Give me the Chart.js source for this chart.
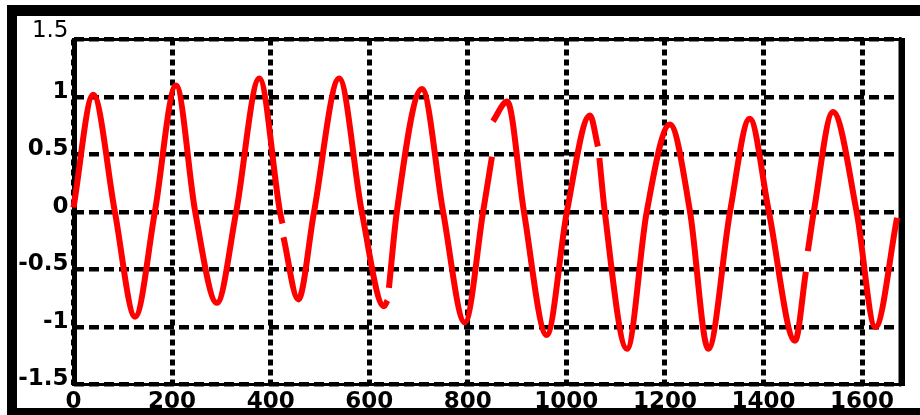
<!DOCTYPE html>
<html>
<head>
<meta charset="utf-8">
<script src="https://cdn.jsdelivr.net/npm/chart.js@4.4.0/dist/chart.umd.min.js"></script>
<style>
html,body{margin:0;padding:0;background:#fff;}
canvas{display:block;}
</style>
</head>
<body>
<canvas id="c" width="920" height="415"></canvas>
<script>
// ---- data ----
const sampleX = [0, 40, 84, 125, 165, 208, 247, 291, 330, 377, 419, 424, 425, 426, 456, 488, 539, 585, 630, 637, 638, 640, 656, 707, 750, 794, 831, 849, 850, 851, 880, 914, 960, 1001, 1048, 1064, 1065, 1067, 1078, 1123, 1163, 1210, 1251, 1288, 1332, 1372, 1411, 1464, 1486, 1488, 1490, 1502, 1541, 1589, 1627, 1671];
const signalY = [0.04, 1.02, 0, -0.91, 0, 1.1, 0, -0.79, 0, 1.16, 0, -0.1, null, -0.22, -0.76, 0, 1.16, 0, -0.82, -0.77, null, -0.66, 0, 1.07, 0, -0.96, 0, 0.48, null, 0.79, 0.96, 0, -1.07, 0, 0.84, 0.57, null, 0.47, 0, -1.19, 0, 0.76, 0, -1.19, 0, 0.81, 0, -1.12, -0.52, null, -0.34, 0, 0.87, 0, -1.0, -0.05];
const xTickValues = [0, 200, 400, 600, 800, 1000, 1200, 1400, 1600];
const xTickLabels = ['0', '200', '400', '600', '800', '1000', '1200', '1400', '1600'];
const yTickValues = [-1.5, -1, -0.5, 0, 0.5, 1, 1.5];
const yTickLabels = ['-1.5', '-1', '-0.5', '0', '0.5', '1', '1.5'];
const xMin = 0, xMax = 1680, yMin = -1.5, yMax = 1.5;

const points = sampleX.map((x, i) => ({x: x, y: signalY[i]}));

const framePlugin = {
  id: 'frame',
  beforeDraw(chart) {
    const c = chart.ctx;
    c.save();
    c.fillStyle = '#ffffff';
    c.fillRect(0, 0, chart.width, chart.height);
    c.restore();
  },
  beforeDatasetsDraw(chart) {
    const c = chart.ctx, a = chart.chartArea;
    c.save();
    c.fillStyle = '#000';
    const L = a.left - 1.5, R = a.right + 3.5;
    c.fillRect(L, a.top - 1.5, R - L, 3);          // top
    c.fillRect(L, a.bottom - 1.5, R - L, 3);       // bottom
    c.fillRect(L, a.top - 1.5, 5, a.bottom - a.top + 3);   // left
    c.fillRect(a.right - 3, a.top - 1.5, 6.5, a.bottom - a.top + 3); // right
    c.restore();
  },
  afterDraw(chart) {
    const c = chart.ctx;
    c.save();
    c.fillStyle = '#000';
    c.fillRect(7, 5, chart.width - 7, 11);    // outer top
    c.fillRect(7, 5, 10, chart.height - 5);   // outer left
    c.fillRect(7, 408, chart.width - 7, 7);   // outer bottom
    c.restore();
  }
};

new Chart(document.getElementById('c'), {
  type: 'line',
  data: {
    datasets: [{
      data: points,
      borderColor: '#ff0000',
      borderWidth: 6,
      pointRadius: 0,
      fill: false,
      spanGaps: false,
      cubicInterpolationMode: 'monotone',
      clip: false,
      borderJoinStyle: 'round'
    }]
  },
  options: {
    responsive: false,
    animation: false,
    devicePixelRatio: 1,
    parsing: true,
    layout: {padding: {left: 0, top: 39.5, right: 18.5, bottom: 0}},
    plugins: {legend: {display: false}, tooltip: {enabled: false}},
    scales: {
      x: {
        type: 'linear',
        min: xMin, max: xMax,
        afterBuildTicks: s => { s.ticks = xTickValues.map(v => ({value: v})); },
        afterFit: s => { s.height = 30.5; },
        ticks: {
          autoSkip: false, maxRotation: 0, minRotation: 0,
          color: '#000', padding: 4,
          font: {family: 'DejaVu Sans', size: 23, weight: 'bold'},
          callback: v => xTickLabels[xTickValues.indexOf(v)]
        },
        grid: {color: '#000', lineWidth: 5, drawTicks: false},
        border: {display: false, dash: [6, 4]}
      },
      y: {
        type: 'linear',
        min: yMin, max: yMax,
        afterBuildTicks: s => { s.ticks = yTickValues.map(v => ({value: v})); },
        afterFit: s => { s.width = 73.5; },
        ticks: {
          autoSkip: false,
          color: '#000', padding: 5, labelOffset: -5,
          font: ctx => (ctx.tick && ctx.tick.value === 1.5)
            ? {family: 'DejaVu Sans', size: 23, weight: 'normal', lineHeight: 0.32}
            : {family: 'DejaVu Sans', size: 23, weight: 'bold'},
          callback: v => {
            const t = yTickLabels[yTickValues.indexOf(v)];
            return v === 1.5 ? [t, ''] : t;
          }
        },
        grid: {color: '#000', lineWidth: 4.5, drawTicks: false},
        border: {display: false, dash: [10, 5]}
      }
    }
  },
  plugins: [framePlugin]
});
</script>
</body>
</html>
